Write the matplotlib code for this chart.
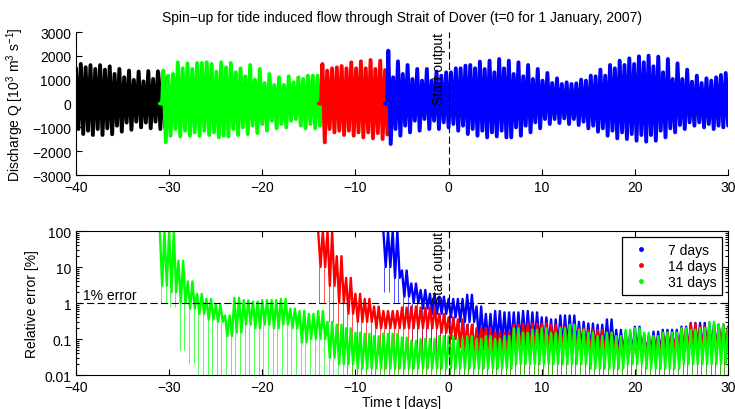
import matplotlib
matplotlib.use("Agg")
import matplotlib.pyplot as plt
import numpy as np
from matplotlib.lines import Line2D

plt.rcParams["font.family"] = ["Liberation Sans", "DejaVu Sans"]
plt.rcParams["mathtext.default"] = "regular"
plt.rcParams["font.size"] = 10

# ---- top panel: discharge extremes per tidal cycle [10^3 m^3/s] ----
TIDE_PERIOD = 0.5175  # days (M2)

black_start = -40.07
black_high = [1480, 1660, 1520, 1610, 1450, 1610, 1420, 1560, 1240, 1450,
              1100, 1380, 990, 1340, 930, 1360, 1030, 1350, 1308, 1100]
black_low = [-1070, -1280, -1140, -1320, -1070, -1320, -1040, -1290, -930, -1180,
             -800, -1100, -760, -1000, -800, -1040, -760, -1070, -1000, -900]

green_start = -31.0
green_high = [1378, 1168, 1238, 1727, 1476, 1685, 1448, 1699, 1699, 1727,
              1657, 1336, 1727, 1517, 1699, 1308, 1476, 1140, 1615, 1000,
              1448, 860, 1238, 776, 1098, 776, 1140, 888, 1098, 1028,
              1168, 1168, 1168, 1100]
green_low = [-1630, -1350, -1070, -1380, -1140, -1350, -1210, -1350, -1140, -1320,
             -1210, -1420, -1350, -1380, -1070, -1320, -1000, -1280, -930, -1240,
             -860, -1140, -720, -1040, -860, -1000, -720, -650, -930, -1040,
             -860, -1040, -930, -1000]

red_start = -13.93
red_high = [1657, 1378, 1476, 1517, 1573, 1476, 1727, 1476, 1769, 1476,
            1825, 1448, 1797, 1400]
red_low = [-1630, -1070, -1210, -1140, -1320, -1140, -1350, -1210, -1420, -1210,
           -1460, -1240, -1490, -1300]

blue_start = -6.85
blue_high = [2217, 1100, 1769, 1238, 1615, 1028, 1448, 958, 1448, 958,
             1336, 1168, 1308, 1308, 1476, 1476, 1588, 1615, 1476, 1755,
             1448, 1797, 1308, 1867, 1476, 1797, 1238, 1727, 1140, 1615,
             1028, 1448, 958, 1280, 860, 1056, 818, 888, 818, 846,
             1000, 958, 1168, 1140, 1420, 1168, 1615, 1476, 1797, 1615,
             1895, 1657, 1979, 1727, 2007, 1560, 1965, 1308, 1867, 1028,
             1685, 1028, 1420, 916, 1168, 860, 1056, 958, 1098, 1196, 1280]
blue_low = [-1700, -1070, -1350, -930, -1210, -720, -1140, -650, -1070, -720,
            -1070, -790, -1000, -860, -1140, -930, -1280, -1070, -1350, -1140,
            -1420, -1210, -1380, -1140, -1420, -1420, -1000, -1350, -930, -1210,
            -790, -1040, -650, -860, -650, -818, -622, -860, -650, -902,
            -762, -1042, -930, -1182, -1042, -1350, -1140, -1462, -1210, -1490,
            -1280, -1560, -1322, -1600, -1322, -1560, -1140, -1420, -1042, -1210,
            -902, -1070, -790, -930, -790, -1000, -860, -1070, -930, -1000, -930]

# ---- bottom panel: relative error [%], daily band top / dense floor / sparse floor ----
err7_start = -7
err7_top = [100, 100, 8, 3.5, 2.3, 1.8, 1.5, 1.3, 1.3, 1.7,
            0.8, 0.5, 0.6, 0.55, 0.55, 0.6, 0.55, 0.4, 0.35, 0.45,
            0.45, 0.3, 0.27, 0.25, 0.35, 0.18, 0.15, 0.22, 0.13, 0.16,
            0.18, 0.18, 0.22, 0.28, 0.28, 0.27, 0.25, 0.22]
err7_mid = [10, 5, 1.5, 1.0, 0.7, 0.5, 0.5, 0.4, 0.3, 0.3,
            0.1, 0.08, 0.08, 0.08, 0.08, 0.08, 0.08, 0.06, 0.06, 0.06,
            0.06, 0.05, 0.05, 0.05, 0.05, 0.04, 0.04, 0.04, 0.04, 0.04,
            0.04, 0.04, 0.04, 0.05, 0.05, 0.05, 0.05, 0.05]
err7_low = [2, 1, 0.3, 0.05, 0.02, 0.02, 0.01, 0.01, 0.01, 0.01,
            0.01, 0.01, 0.01, 0.01, 0.01, 0.01, 0.01, 0.01, 0.01, 0.01,
            0.01, 0.01, 0.01, 0.01, 0.01, 0.01, 0.01, 0.01, 0.01, 0.01,
            0.01, 0.01, 0.01, 0.01, 0.01, 0.01, 0.01, 0.01]

err14_start = -14
err14_top = [100, 100, 20, 5, 1.8, 1.3, 0.8, 0.6, 0.6, 0.75,
             0.8, 0.75, 0.75, 0.5, 0.4, 0.35, 0.25, 0.2, 0.2, 0.15,
             0.15, 0.25, 0.27, 0.27, 0.27, 0.25, 0.22, 0.2, 0.2, 0.18,
             0.18, 0.15, 0.12, 0.12, 0.12, 0.12, 0.12, 0.15, 0.15, 0.2,
             0.27, 0.22, 0.2, 0.25, 0.2]
err14_mid = [10, 3, 1, 0.5, 0.3, 0.3, 0.2, 0.2, 0.2, 0.2,
             0.2, 0.2, 0.2, 0.15, 0.1, 0.06, 0.05, 0.05, 0.05, 0.04,
             0.04, 0.05, 0.05, 0.05, 0.05, 0.05, 0.05, 0.04, 0.04, 0.04,
             0.04, 0.04, 0.03, 0.03, 0.03, 0.03, 0.03, 0.04, 0.04, 0.04,
             0.05, 0.05, 0.04, 0.05, 0.04]
err14_low = [1, 0.3, 0.05, 0.01, 0.01, 0.01, 0.01, 0.01, 0.01, 0.01,
             0.01, 0.01, 0.01, 0.01, 0.01, 0.01, 0.01, 0.01, 0.01, 0.01,
             0.01, 0.01, 0.01, 0.01, 0.01, 0.01, 0.01, 0.01, 0.01, 0.01,
             0.01, 0.01, 0.01, 0.01, 0.01, 0.01, 0.01, 0.01, 0.01, 0.01,
             0.01, 0.01, 0.01, 0.01, 0.01]

err31_start = -31
err31_top = [100, 100, 15, 4, 1.8, 1.3, 0.9, 0.45, 1.4, 1.2,
             1.1, 1.2, 1.2, 1.3, 0.7, 0.6, 0.5, 0.6, 0.3, 0.25,
             0.2, 0.15, 0.14, 0.12, 0.14, 0.14, 0.11, 0.09, 0.1, 0.1,
             0.12, 0.12, 0.1, 0.12, 0.1, 0.12, 0.1, 0.12, 0.2, 0.15,
             0.18, 0.2, 0.15, 0.2, 0.25, 0.18, 0.15, 0.12, 0.15, 0.12,
             0.18, 0.2, 0.15, 0.12, 0.15, 0.15, 0.2, 0.18, 0.2, 0.3,
             0.25, 0.2]
err31_mid = [3, 2, 1, 0.7, 0.5, 0.35, 0.3, 0.12, 0.15, 0.25,
             0.2, 0.25, 0.2, 0.25, 0.2, 0.08, 0.1, 0.1, 0.03, 0.02,
             0.02, 0.015, 0.015, 0.015, 0.015, 0.015, 0.015, 0.015, 0.015, 0.015,
             0.015, 0.015, 0.015, 0.015, 0.015, 0.015, 0.015, 0.015, 0.02, 0.02,
             0.02, 0.02, 0.02, 0.02, 0.02, 0.02, 0.015, 0.015, 0.015, 0.015,
             0.02, 0.02, 0.015, 0.015, 0.015, 0.015, 0.02, 0.02, 0.02, 0.02,
             0.02, 0.02]
err31_low = [1, 0.8, 0.05, 0.02, 0.01, 0.01, 0.01, 0.01, 0.01, 0.01,
             0.01, 0.01, 0.01, 0.01, 0.01, 0.01, 0.01, 0.01, 0.01, 0.01,
             0.01, 0.01, 0.01, 0.01, 0.01, 0.01, 0.01, 0.01, 0.01, 0.01,
             0.01, 0.01, 0.01, 0.01, 0.01, 0.01, 0.01, 0.01, 0.01, 0.01,
             0.01, 0.01, 0.01, 0.01, 0.01, 0.01, 0.01, 0.01, 0.01, 0.01,
             0.01, 0.01, 0.01, 0.01, 0.01, 0.01, 0.01, 0.01, 0.01, 0.01,
             0.01, 0.01]

legend_labels = ["7 days", "14 days", "31 days"]
GREEN = (0, 1, 0)
RED = (1, 0, 0)
BLUE = (0, 0, 1)


def tide_path(start, highs, lows, nub=True, offset=0.38):
    """Zigzag through the read extremes, one high/low pair per tidal cycle."""
    t, v = [], []
    if nub:
        t += [start, start + 0.25]
        v += [0.0, 0.0]
    for k, (hi, lo) in enumerate(zip(highs, lows)):
        t += [start + offset + k * TIDE_PERIOD, start + offset + (k + 0.5) * TIDE_PERIOD]
        v += [hi, lo]
    return np.array(t), np.array(v)


def error_path(start, top, mid):
    """Spiky band: each day's top and dense-floor values, two strokes per day."""
    t, v = [], []
    for i, (hi, lo) in enumerate(zip(top, mid)):
        d = start + i
        t += [d, d + 0.25, d + 0.5, d + 0.75]
        v += [hi, lo, hi, lo]
    return np.array(t), np.array(v)


fig = plt.figure(figsize=(7.35, 4.10), dpi=100)
ax1 = fig.add_axes([0.1034, 0.5707, 0.8871, 0.3488])
ax2 = fig.add_axes([0.1034, 0.0829, 0.8871, 0.3512])

# top panel
segments = [
    (black_start, black_high, black_low, "k", False, 0.07),
    (green_start, green_high, green_low, GREEN, True, 0.38),
    (red_start, red_high, red_low, RED, True, 0.38),
    (blue_start, blue_high, blue_low, BLUE, True, 0.38),
]
for start, hi, lo, color, nub, off in segments:
    t, v = tide_path(start, hi, lo, nub=nub, offset=off)
    ax1.plot(t, v, color=color, lw=2.8, solid_joinstyle="round", solid_capstyle="round")

dash = (0, (6.5, 3))
ax1.axvline(0, color="k", lw=0.8, ls=dash)
ax1.text(-0.25, 0, "Start output", rotation=90, ha="right", va="bottom")
ax1.set_xlim(-40, 30)
ax1.set_ylim(-3000, 3000)
ax1.set_xticks(np.arange(-40, 31, 10))
ax1.set_yticks(np.arange(-3000, 3001, 1000))
ax1.spines["top"].set_visible(False)
ax1.spines["right"].set_visible(False)
ax1.tick_params(direction="in", length=4, width=0.8)
ax1.set_ylabel("Discharge Q [10$^3$ m$^3$ s$^{-1}$]")
ax1.set_title("Spin\u2212up for tide induced flow through Strait of Dover "
              "(t=0 for 1 January, 2007)", fontsize=10, pad=8)

# bottom panel: faint streaks for the sparse points below the dense spiky band
series = [
    (err7_start, err7_top, err7_mid, err7_low, BLUE),
    (err14_start, err14_top, err14_mid, err14_low, RED),
    (err31_start, err31_top, err31_mid, err31_low, GREEN),
]
for start, top, mid, low, color in series:
    t = start + np.arange(len(top))
    ax2.vlines(np.concatenate([t + 0.12, t + 0.62]), np.concatenate([low, low]),
               np.concatenate([mid, mid]), colors=[color], lw=0.6, alpha=0.8)
    tz, vz = error_path(start, top, mid)
    ax2.plot(tz, vz, color=color, lw=1.7, solid_joinstyle="round")

ax2.set_yscale("log")
ax2.axhline(1, color="k", lw=0.8, ls=dash)
ax2.axvline(0, color="k", lw=0.8, ls=dash)
ax2.text(-39.3, 1.05, "1% error", ha="left", va="bottom")
ax2.text(-0.25, 1.0, "Start output", rotation=90, ha="right", va="bottom")
ax2.set_xlim(-40, 30)
ax2.set_ylim(0.01, 100)
ax2.set_xticks(np.arange(-40, 31, 10))
ax2.set_yticks([0.01, 0.1, 1, 10, 100])
ax2.set_yticklabels(["0.01", "0.1", "1", "10", "100"])
ax2.tick_params(which="both", direction="in", top=True, right=True, width=0.8)
ax2.tick_params(which="major", length=4)
ax2.tick_params(which="minor", length=2)
ax2.set_ylabel("Relative error [%]")
ax2.set_xlabel("Time t [days]", labelpad=1)

handles = [Line2D([], [], ls="none", marker=".", ms=5, color=c) for c in (BLUE, RED, GREEN)]
leg = ax2.legend(handles, legend_labels, loc="upper right", bbox_to_anchor=(1.0, 1.0),
                 borderaxespad=0.45, fancybox=False, framealpha=1, edgecolor="k",
                 handlelength=2.0, handletextpad=0.9, borderpad=0.4, labelspacing=0.15)
leg.get_frame().set_linewidth(0.9)

fig.savefig("out.png", dpi=100)
